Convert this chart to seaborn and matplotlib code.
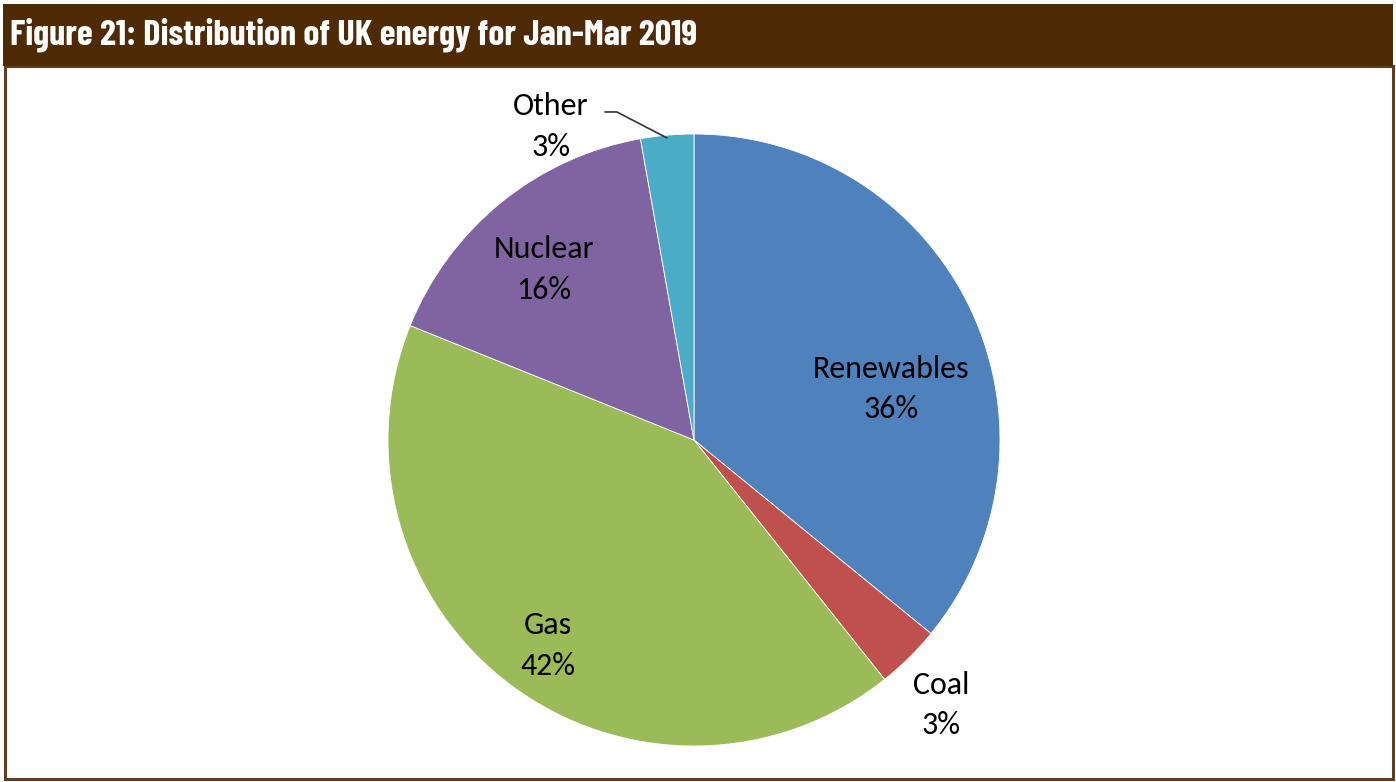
import matplotlib
matplotlib.use("Agg")
import matplotlib.pyplot as plt
from matplotlib.patches import Rectangle
import seaborn as sns

# Energy mix, Jan-Mar 2019 (share of total, %)
sources = ["Renewables", "Coal", "Gas", "Nuclear", "Other"]
shares = [35.9, 3.4, 41.8, 16.1, 2.8]
colors = ["#4F81BD", "#C0504D", "#9BBB59", "#8064A2", "#4BACC6"]

# Label anchor points in pie units (radius = 1)
label_pos = {
    "Renewables": (0.644, 0.167),
    "Coal": (0.807, -0.866),
    "Gas": (-0.477, -0.672),
    "Nuclear": (-0.49, 0.557),
    "Other": (-0.467, 1.025),
}

sns.set_theme(style="white")
plt.rcParams["font.family"] = ["Carlito", "Open Sans", "DejaVu Sans"]

W, H = 1396, 782
fig = plt.figure(figsize=(W / 100, H / 100), dpi=100)
fig.patch.set_facecolor("white")

# Frame and title band
fig.patches.append(Rectangle((5 / W, 3 / H), 1388 / W, 713 / H, transform=fig.transFigure,
                             facecolor="white", edgecolor="#5E3F22", linewidth=2.2, zorder=-2))
fig.patches.append(Rectangle((3 / W, (H - 66) / H), 1390 / W, 62 / H, transform=fig.transFigure,
                             facecolor="#4F2A07", edgecolor="none", zorder=-1))
fig.text(10 / W, (H - 35) / H, "Figure 21: Distribution of UK energy for Jan-Mar 2019",
         color="white", fontsize=26, fontweight="bold", va="center", ha="left",
         family=["Barlow Condensed", "DejaVu Sans"], zorder=2)

R = 306
cx, cy = 694, 440
ax = fig.add_axes([(cx - R) / W, (H - cy - R) / H, 2 * R / W, 2 * R / H])
wedges, _ = ax.pie(shares, colors=colors, startangle=90, counterclock=False,
                   radius=1, wedgeprops=dict(edgecolor="white", linewidth=0.6))
ax.set_xlim(-1, 1)
ax.set_ylim(-1, 1)
ax.set_aspect("equal")
ax.axis("off")

for name, val in zip(sources, shares):
    x, y = label_pos[name]
    ax.text(x, y, f"{name}\n{round(val):d}%", ha="center", va="center",
            fontsize=23, color="black", linespacing=1.55, clip_on=False)

# Leader line for the small "Other" slice
ax.plot([-0.291, -0.252, -0.088], [1.072, 1.072, 0.987], color="#333333",
        linewidth=1.2, clip_on=False)

fig.savefig("out.png", dpi=100)
